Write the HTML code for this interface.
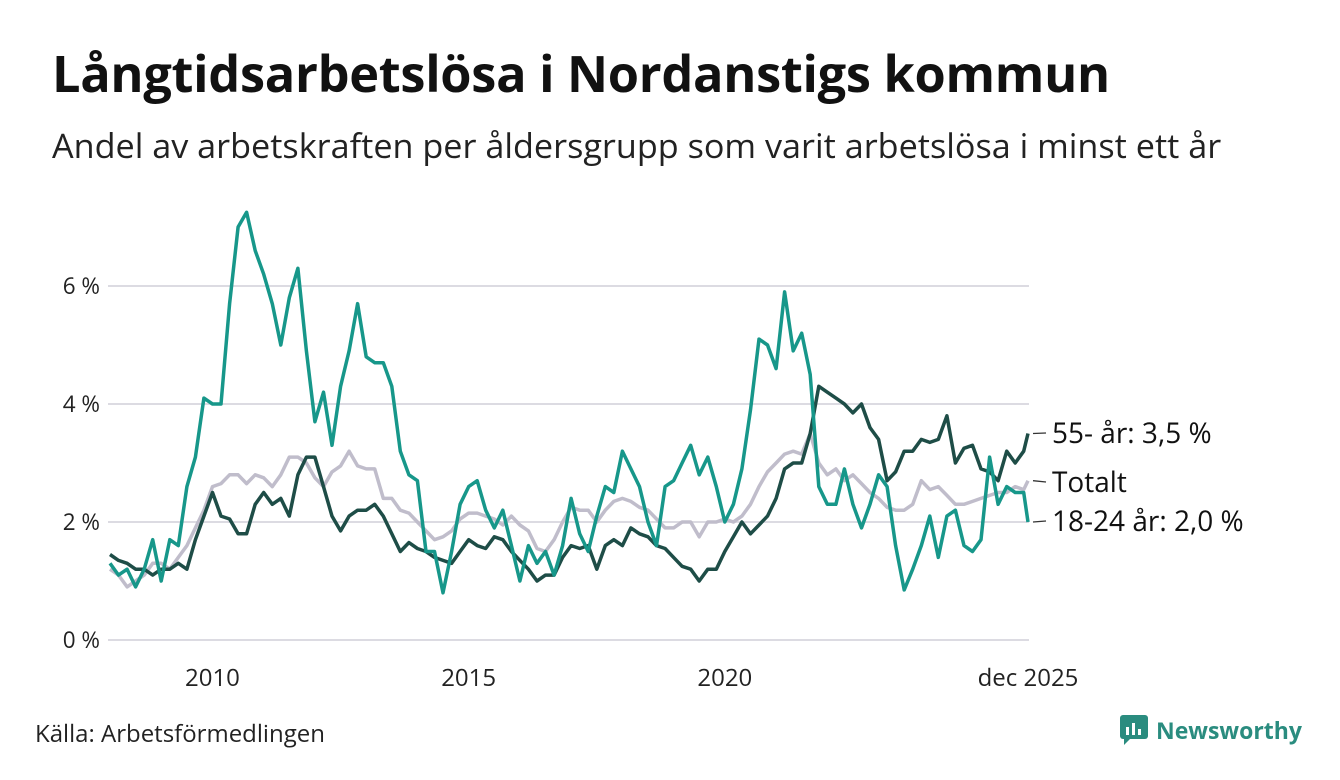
<!DOCTYPE html>
<html><head><meta charset="utf-8">
<style>
body{margin:0;background:#fff;width:1340px;height:780px;overflow:hidden;font-family:"Open Sans","Liberation Sans",sans-serif;color:#111}
#title{position:absolute;left:52px;top:38px;font-size:50.5px;font-weight:bold;margin:0;letter-spacing:-0.3px;white-space:nowrap}
#sub{position:absolute;left:52px;top:122px;font-size:34.2px;color:#222;white-space:nowrap}
#src{position:absolute;left:35px;top:717px;font-size:24px;color:#222}
#logo{position:absolute;left:1120px;top:714px;font-size:23px;font-weight:bold;color:#2a8c7f;display:flex;align-items:center;gap:8px}
svg{position:absolute;left:0;top:0}
</style></head><body>
<div id="title">Långtidsarbetslösa i Nordanstigs kommun</div>
<div id="sub">Andel av arbetskraften per åldersgrupp som varit arbetslösa i minst ett år</div>
<div id="src">Källa: Arbetsförmedlingen</div>
<div id="logo"><svg width="28" height="30" style="position:static"><rect x="0" y="0" width="28" height="24" rx="3" fill="#2a8c7f"/><path d="M4 24 L4 30 L10 24Z" fill="#2a8c7f"/><rect x="6" y="12" width="3" height="8" fill="#fff"/><rect x="12" y="8" width="3" height="12" fill="#fff"/><rect x="18" y="14" width="3" height="6" fill="#fff"/></svg><span>Newsworthy</span></div>
<svg id="chart" width="1340" height="780"></svg>
<script>
const months=[];for(let i=0;i<108;i++)months.push(i*2);months.push(215);
const youth=[1.3,1.1,1.2,0.9,1.2,1.7,1.0,1.7,1.6,2.6,3.1,4.1,4.0,4.0,5.7,7.0,7.25,6.6,6.2,5.7,5.0,5.8,6.3,4.9,3.7,4.2,3.3,4.3,4.9,5.7,4.8,4.7,4.7,4.3,3.2,2.8,2.7,1.5,1.5,0.8,1.5,2.3,2.6,2.7,2.2,1.9,2.2,1.6,1.0,1.6,1.3,1.5,1.1,1.6,2.4,1.8,1.5,2.1,2.6,2.5,3.2,2.9,2.6,2.0,1.6,2.6,2.7,3.0,3.3,2.8,3.1,2.6,2.0,2.3,2.9,3.9,5.1,5.0,4.6,5.9,4.9,5.2,4.5,2.6,2.3,2.3,2.9,2.3,1.9,2.3,2.8,2.6,1.6,0.85,1.2,1.6,2.1,1.4,2.1,2.2,1.6,1.5,1.7,3.1,2.3,2.6,2.5,2.5,2.0];
const older=[1.45,1.35,1.3,1.2,1.2,1.1,1.2,1.2,1.3,1.2,1.7,2.1,2.5,2.1,2.05,1.8,1.8,2.3,2.5,2.3,2.4,2.1,2.8,3.1,3.1,2.6,2.1,1.85,2.1,2.2,2.2,2.3,2.1,1.8,1.5,1.65,1.55,1.5,1.4,1.35,1.3,1.5,1.7,1.6,1.55,1.75,1.7,1.5,1.35,1.2,1.0,1.1,1.1,1.4,1.6,1.55,1.6,1.2,1.6,1.7,1.6,1.9,1.8,1.75,1.6,1.55,1.4,1.25,1.2,1.0,1.2,1.2,1.5,1.75,2.0,1.8,1.95,2.1,2.4,2.9,3.0,3.0,3.5,4.3,4.2,4.1,4.0,3.85,4.0,3.6,3.4,2.7,2.85,3.2,3.2,3.4,3.35,3.4,3.8,3.0,3.25,3.3,2.9,2.85,2.7,3.2,3.0,3.2,3.5];
const total=[1.2,1.1,0.9,1.0,1.1,1.3,1.3,1.2,1.4,1.6,1.9,2.2,2.6,2.65,2.8,2.8,2.65,2.8,2.75,2.6,2.8,3.1,3.1,3.0,2.75,2.6,2.85,2.95,3.2,2.95,2.9,2.9,2.4,2.4,2.2,2.15,2.0,1.85,1.7,1.75,1.85,2.05,2.15,2.15,2.1,2.05,1.95,2.1,1.95,1.85,1.55,1.5,1.7,2.0,2.25,2.2,2.2,2.0,2.2,2.35,2.4,2.35,2.25,2.2,2.05,1.9,1.9,2.0,2.0,1.75,2.0,2.0,2.05,2.0,2.1,2.3,2.6,2.85,3.0,3.15,3.2,3.15,3.5,3.0,2.8,2.9,2.7,2.8,2.65,2.5,2.4,2.25,2.2,2.2,2.3,2.7,2.55,2.6,2.45,2.3,2.3,2.35,2.4,2.45,2.5,2.5,2.6,2.55,2.7];
const yTicks=[0,2,4,6];
const yTickLabels=["0 %","2 %","4 %","6 %"];
const xTickMonths=[24,84,144,215];
const xTickLabels=["2010","2015","2020","dec 2025"];
const NS="http://www.w3.org/2000/svg",svg=document.getElementById('chart');
const x=m=>110+m*(918/215), y=v=>640-v*59;
function mk(t,a){const e=document.createElementNS(NS,t);for(const k in a)e.setAttribute(k,a[k]);svg.appendChild(e);return e;}
yTicks.forEach((v,i)=>{
 const g=mk('line',{x1:108,x2:1029,y1:y(v),y2:y(v),stroke:'#dcdbe2','stroke-width':2});
 
 
 const t=mk('text',{x:100,y:y(v)+8,'text-anchor':'end','font-size':22.5,fill:'#222'});t.textContent=yTickLabels[i];
 
 
});
xTickMonths.forEach((m,i)=>{
 const t=mk('text',{x:x(m),y:686,'text-anchor':'middle','font-size':24,fill:'#222'});t.textContent=xTickLabels[i];
 
 
});
function line(arr,col,name){
 const d=arr.map((v,i)=>(i?'L':'M')+x(months[i]).toFixed(1)+' '+y(v).toFixed(1)).join(' ');
 const p=mk('path',{d:d,fill:'none',stroke:col,'stroke-width':3.5,'stroke-linejoin':'round'});
 
 
}
line(total,'#c0bdcb','line-totalt');
line(older,'#1e4d47','line-55-plus');
line(youth,'#17978a','line-18-24');
const labels=[[older,'55- år: 3,5 %',433,'label-55-plus'],[total,'Totalt',482,'label-totalt'],[youth,'18-24 år: 2,0 %',521,'label-18-24']];
labels.forEach(([arr,txt,ly,nm])=>{
 const l=mk('line',{x1:1033,x2:1046,y1:y(arr[arr.length-1]),y2:ly,stroke:'#333','stroke-width':1.3});
 
 
 const t=mk('text',{x:1052,y:ly+10,'font-size':28,fill:'#111'});t.textContent=txt;
 
 
});
</script>
</body></html>
